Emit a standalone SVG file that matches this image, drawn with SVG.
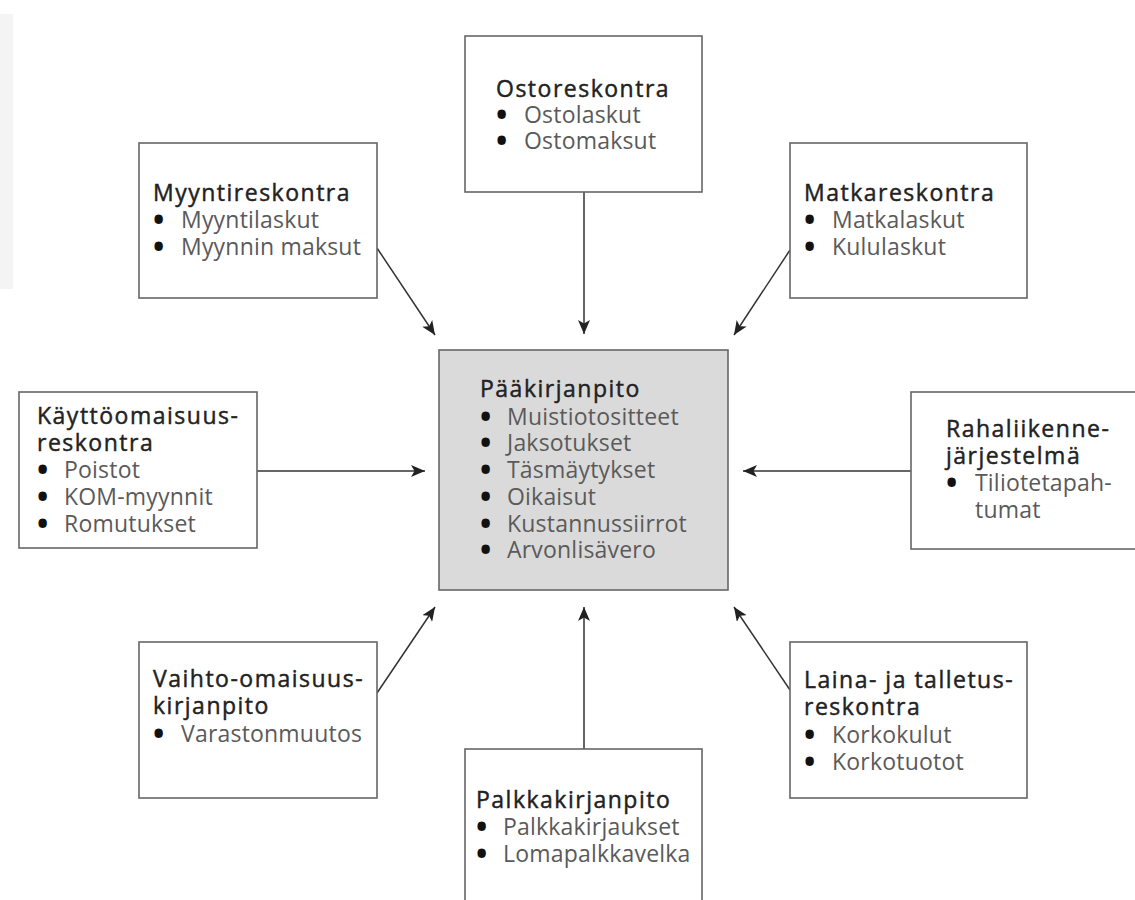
<svg xmlns="http://www.w3.org/2000/svg" width="1135" height="900" viewBox="0 0 1135 900">
<defs>
<style>
.box{fill:#fff;stroke:#666;stroke-width:1.6}
.main{fill:#dadada;stroke:#666;stroke-width:1.6}
.t{font-family:"Open Sans","Noto Sans",sans-serif;font-size:23px;font-weight:400;fill:#222;stroke:#222;stroke-width:0.45px;letter-spacing:1.5px}
.i{font-family:"Open Sans","Noto Sans",sans-serif;font-size:23px;font-weight:400;fill:#5a5a5a;letter-spacing:0.2px}
.b{font-family:"Open Sans","Noto Sans",sans-serif;font-size:30px;font-weight:700;fill:#111}
.c{stroke:#333;stroke-width:1.5;fill:none;marker-end:url(#ah)}
</style>
<marker id="ah" viewBox="0 0 14 12" refX="14" refY="6" markerWidth="14" markerHeight="12" markerUnits="userSpaceOnUse" orient="auto">
<path d="M0,0 L14,6 L0,12 L3.5,6 Z" fill="#222"/>
</marker>
</defs>
<rect width="1135" height="900" fill="#fff"/>
<rect x="0" y="14" width="13" height="275" fill="#f4f4f4"/>

<g id="connectors">
<line class="c" x1="584" y1="192" x2="584" y2="334"/>
<line class="c" x1="377" y1="248" x2="435" y2="335"/>
<line class="c" x1="790" y1="250" x2="734" y2="335"/>
<line class="c" x1="257" y1="471" x2="425" y2="471"/>
<line class="c" x1="911" y1="471" x2="743" y2="471"/>
<line class="c" x1="377" y1="693" x2="435" y2="607"/>
<line class="c" x1="584" y1="749" x2="584" y2="607"/>
<line class="c" x1="790" y1="690" x2="734" y2="607"/>
</g>

<g id="ostoreskontra">
<rect class="box" x="465" y="36" width="237" height="156"/>
<text class="t" x="496" y="97">Ostoreskontra</text>
<text class="b" x="496" y="125">•</text><text class="i" x="524" y="123">Ostolaskut</text>
<text class="b" x="496" y="151">•</text><text class="i" x="524" y="149">Ostomaksut</text>
</g>

<g id="myyntireskontra">
<rect class="box" x="139" y="143" width="238" height="155"/>
<text class="t" x="153" y="201">Myyntireskontra</text>
<text class="b" x="153" y="230">•</text><text class="i" x="181" y="228">Myyntilaskut</text>
<text class="b" x="153" y="257">•</text><text class="i" x="181" y="255">Myynnin maksut</text>
</g>

<g id="matkareskontra">
<rect class="box" x="790" y="143" width="237" height="155"/>
<text class="t" x="804" y="201">Matkareskontra</text>
<text class="b" x="804" y="230">•</text><text class="i" x="832" y="228">Matkalaskut</text>
<text class="b" x="804" y="257">•</text><text class="i" x="832" y="255">Kululaskut</text>
</g>

<g id="kayttoomaisuusreskontra">
<rect class="box" x="19" y="392" width="238" height="156"/>
<text class="t" x="37" y="424">Käyttöomaisuus-</text>
<text class="t" x="37" y="451">reskontra</text>
<text class="b" x="37" y="480">•</text><text class="i" x="64" y="478">Poistot</text>
<text class="b" x="37" y="507">•</text><text class="i" x="64" y="505">KOM-myynnit</text>
<text class="b" x="37" y="534">•</text><text class="i" x="64" y="532">Romutukset</text>
</g>

<g id="paakirjanpito">
<rect class="main" x="439" y="350" width="289" height="240"/>
<text class="t" x="480" y="397">Pääkirjanpito</text>
<text class="b" x="480" y="427">•</text><text class="i" x="507" y="425">Muistiotositteet</text>
<text class="b" x="480" y="453">•</text><text class="i" x="507" y="451">Jaksotukset</text>
<text class="b" x="480" y="480">•</text><text class="i" x="507" y="478">Täsmäytykset</text>
<text class="b" x="480" y="507">•</text><text class="i" x="507" y="505">Oikaisut</text>
<text class="b" x="480" y="534">•</text><text class="i" x="507" y="532">Kustannussiirrot</text>
<text class="b" x="480" y="560">•</text><text class="i" x="507" y="558">Arvonlisävero</text>
</g>

<g id="rahaliikennejarjestelma">
<rect class="box" x="911" y="392" width="240" height="157"/>
<text class="t" x="946" y="437">Rahaliikenne-</text>
<text class="t" x="946" y="464">järjestelmä</text>
<text class="b" x="946" y="493">•</text><text class="i" x="975" y="491">Tiliotetapah-</text>
<text class="i" x="975" y="518">tumat</text>
</g>

<g id="vaihtoomaisuuskirjanpito">
<rect class="box" x="139" y="642" width="238" height="156"/>
<text class="t" x="153" y="687">Vaihto-omaisuus-</text>
<text class="t" x="153" y="714">kirjanpito</text>
<text class="b" x="153" y="744">•</text><text class="i" x="181" y="742">Varastonmuutos</text>
</g>

<g id="palkkakirjanpito">
<rect class="box" x="465" y="749" width="237" height="160"/>
<text class="t" x="476" y="808">Palkkakirjanpito</text>
<text class="b" x="476" y="837">•</text><text class="i" x="503" y="835">Palkkakirjaukset</text>
<text class="b" x="476" y="864">•</text><text class="i" x="503" y="862">Lomapalkkavelka</text>
</g>

<g id="lainajatalletusreskontra">
<rect class="box" x="790" y="642" width="237" height="156"/>
<text class="t" x="804" y="688">Laina- ja talletus-</text>
<text class="t" x="804" y="715">reskontra</text>
<text class="b" x="804" y="745">•</text><text class="i" x="832" y="743">Korkokulut</text>
<text class="b" x="804" y="772">•</text><text class="i" x="832" y="770">Korkotuotot</text>
</g>
</svg>
